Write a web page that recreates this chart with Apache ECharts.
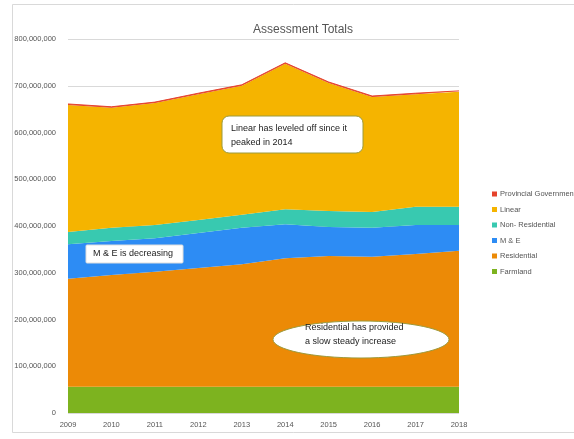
<!DOCTYPE html>
<html>
<head>
<meta charset="utf-8">
<script src="https://cdn.jsdelivr.net/npm/echarts@6/dist/echarts.min.js"></script>
<style>
  html, body { margin: 0; padding: 0; background: #ffffff; }
  #chart { width: 574px; height: 439px; }
</style>
</head>
<body>
<div id="chart"></div>
<script>
// Assessment values by year (stacked)
var years = ['2009', '2010', '2011', '2012', '2013', '2014', '2015', '2016', '2017', '2018'];
var farmland    = [56, 56, 56, 56, 56, 56, 56, 56, 56, 56].map(function (v) { return v * 1e6; });
var residential = [231, 239, 246, 254, 262, 275, 280, 278, 284, 291].map(function (v) { return v * 1e6; });
var mAndE       = [74, 73, 72, 75, 78, 73, 62, 62, 62, 55].map(function (v) { return v * 1e6; });
var nonResidential = [26, 28, 28, 28, 28, 32, 34, 34, 39, 39].map(function (v) { return v * 1e6; });
var linear      = [272, 257, 261, 269, 276, 311, 274, 246, 241, 246].map(function (v) { return v * 1e6; });
var provincial  = [2, 2, 2, 2, 2, 2, 2, 2, 2, 2].map(function (v) { return v * 1e6; });
var yTicks = [0, 100e6, 200e6, 300e6, 400e6, 500e6, 600e6, 700e6, 800e6];

var FONT = 'Liberation Sans';
var colors = {
  farmland: '#7db31f',
  residential: '#ec8a06',
  mAndE: '#2d8cf4',
  nonResidential: '#38c9b0',
  linear: '#f5b400',
  provincial: '#e5432c'
};

function areaSeries(name, data, color, lineWidth) {
  return {
    name: name,
    type: 'line',
    stack: 'total',
    data: data,
    symbol: 'none',
    smooth: false,
    color: color,
    lineStyle: { width: lineWidth, color: color },
    areaStyle: { color: color, opacity: 1 },
    emphasis: { disabled: true }
  };
}

var chart = echarts.init(document.getElementById('chart'), null, { renderer: 'canvas' });

chart.setOption({
  backgroundColor: '#ffffff',
  animation: false,
  title: {
    text: 'Assessment Totals',
    left: 298,
    textAlign: 'center',
    top: 19,
    textStyle: { fontFamily: FONT, fontSize: 12, fontWeight: 'normal', color: '#555555' }
  },
  legend: {
    orient: 'vertical',
    left: 487,
    top: 185,
    itemWidth: 5,
    itemHeight: 5,
    itemGap: 7.5,
    icon: 'rect',
    data: ['Provincial Government', 'Linear', 'Non- Residential', 'M & E', 'Residential', 'Farmland'],
    textStyle: { fontFamily: FONT, fontSize: 7.5, color: '#555555', padding: [0, 0, 0, -2] }
  },
  grid: { left: 68, right: 115, top: 39, bottom: 26 },
  xAxis: {
    type: 'category',
    data: years,
    boundaryGap: false,
    axisLine: { show: false },
    axisTick: { show: false },
    axisLabel: { fontFamily: FONT, fontSize: 7.5, color: '#555555', margin: 8 }
  },
  yAxis: {
    type: 'value',
    min: yTicks[0],
    max: yTicks[yTicks.length - 1],
    interval: yTicks[1] - yTicks[0],
    axisLine: { show: false },
    axisTick: { show: false },
    splitLine: { lineStyle: { color: '#d9d9d9', width: 1 } },
    axisLabel: {
      fontFamily: FONT, fontSize: 7.5, color: '#555555', margin: 12,
      formatter: function (v) { return v.toLocaleString('en-US'); }
    }
  },
  series: [
    areaSeries('Farmland', farmland, colors.farmland, 0),
    areaSeries('Residential', residential, colors.residential, 0),
    areaSeries('M & E', mAndE, colors.mAndE, 0),
    areaSeries('Non- Residential', nonResidential, colors.nonResidential, 0),
    areaSeries('Linear', linear, colors.linear, 0),
    areaSeries('Provincial Government', provincial, colors.provincial, 1)
  ],
  graphic: [
    {
      type: 'rect', silent: true, z: -1,
      shape: { x: 12.5, y: 4.5, width: 570, height: 428 },
      style: { fill: 'none', stroke: '#d9d9d9', lineWidth: 1 }
    },
    {
      type: 'rect', silent: true, z: 100,
      shape: { x: 222, y: 116, width: 141, height: 37, r: 7 },
      style: { fill: '#ffffff', stroke: '#9c9a3c', lineWidth: 1 }
    },
    {
      type: 'text', silent: true, z: 101, left: 231, top: 122,
      style: { text: 'Linear has leveled off since it\npeaked in 2014', fontFamily: FONT, fontSize: 9, lineHeight: 13.5, fill: '#222222' }
    },
    {
      type: 'rect', silent: true, z: 100,
      shape: { x: 86, y: 245, width: 97, height: 18, r: 1 },
      style: { fill: '#ffffff', stroke: '#dddddd', lineWidth: 1 }
    },
    {
      type: 'text', silent: true, z: 101, left: 93, top: 249.5,
      style: { text: 'M & E is decreasing', fontFamily: FONT, fontSize: 9, fill: '#222222' }
    },
    {
      type: 'ellipse', silent: true, z: 100,
      shape: { cx: 361, cy: 339.5, rx: 88, ry: 18.5 },
      style: { fill: '#ffffff', stroke: '#9c9a3c', lineWidth: 1 }
    },
    {
      type: 'text', silent: true, z: 101, left: 305, top: 321,
      style: { text: 'Residential has provided\na slow steady increase', fontFamily: FONT, fontSize: 9, lineHeight: 13.5, fill: '#222222' }
    }
  ]
});
</script>
</body>
</html>
